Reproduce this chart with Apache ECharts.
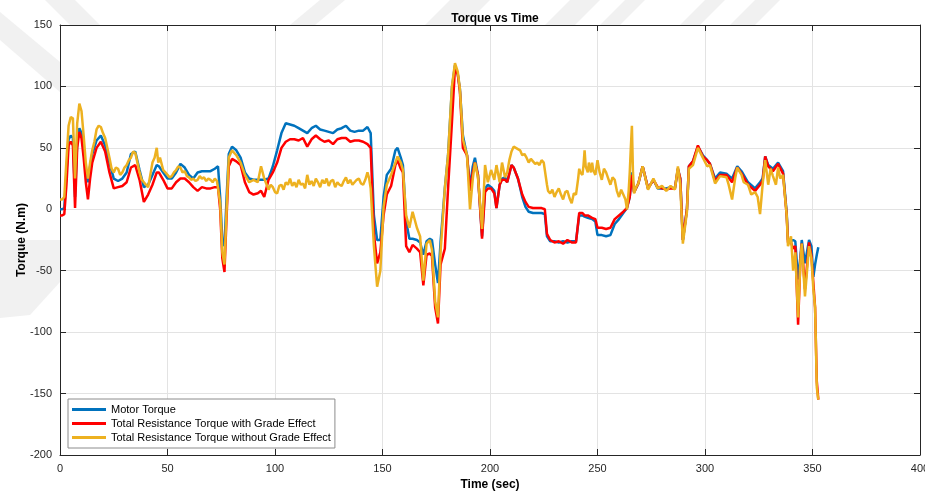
<!DOCTYPE html>
<html>
<head>
<meta charset="utf-8">
<script src="https://cdn.jsdelivr.net/npm/echarts@6/dist/echarts.min.js"></script>
<style>
  html, body { margin: 0; padding: 0; background: #fff; }
  #chart { width: 925px; height: 493px; }
</style>
</head>
<body>
<div id="chart"></div>
<script>
// time samples (sec) for motor torque and "with grade" curve
var time = [
  0, 1, 2, 3, 4, 5, 6, 7, 8, 9, 10, 11, 12, 13, 14, 15, 17, 19, 21, 23, 25, 27, 29, 31, 33, 35, 37, 39, 41, 43, 45, 46, 48, 50,
  52, 54, 56, 58, 60, 62, 64, 66, 68, 70, 72, 73.5, 74.5, 75.5, 76.5, 77.5, 78.5, 80, 82, 84, 86, 88, 90, 92, 93.5, 95, 97, 99,
  101, 103, 105, 107, 109, 111, 113, 115, 117, 119, 121, 123, 125, 127, 129, 131, 133, 135, 137, 139, 141, 143, 144.5, 146,
  147.5, 149, 150.5, 152, 154, 156, 157, 158.5, 159.5, 161, 162.5, 164, 166, 167.5, 169, 170.5, 172, 173, 174.5, 175.8, 177,
  179, 180.5, 182.3, 183.7, 185, 186, 187.4, 189.3, 190.7, 192, 193, 194.4, 196.3, 197.7, 199, 200.5, 202, 203, 204.5, 205.6,
  207, 208, 210, 211, 213, 215, 216.5, 218, 220, 222, 224, 225.5, 226.5, 228, 230, 232, 234, 236, 238, 240, 241.5, 243, 244,
  245.5, 247.5, 249, 250, 252, 254, 256, 258, 260, 262, 263.7, 265, 266, 267, 269, 271, 273.5, 276, 278, 280, 282, 284, 286,
  287.4, 288.5, 289.7, 291.6, 292.5, 294.4, 296.7, 299, 301, 302.3, 304.7, 307, 310, 312.6, 315, 317, 320, 323.3, 325.6, 326.8,
  328, 329.4, 331.6, 334, 336.3, 338, 338.6, 340, 341, 342, 343.3, 344.3, 345, 346.5, 348.4, 349.5, 350.4, 351.2, 352, 352.7
];

var motorTorque = [
  0, 0, 1, 30, 57, 60, 58, 10, 55, 66, 62, 48, 30, 22, 35, 45, 56, 60, 52, 38, 25, 23, 25, 30, 45, 47, 32, 18, 20, 28, 36, 35, 30, 25,
  25, 30, 37, 34, 28, 25, 30, 31, 31, 31, 33, 35, 10, -25, -30, 10, 45, 51, 48, 42, 30, 25, 24, 24, 24, 24, 25, 35,
  48, 62, 70, 69, 68, 66, 64, 62, 66, 68, 65, 64, 63, 62, 65, 66, 68, 64, 63, 64, 64, 67, 62, -5,
  -25, -25, 10, 28, 33, 48, 50, 42, 36, -10, -24, -24, -25, -27, -37, -26, -24, -25, -45, -60, -27,
  17, 44, 99, 117, 110, 98, 60, 44, 18, 35, 42, 28, -22, 17, 20, 18, 15, 1, 20, 25,
  26, 22, 36, 34, 25, 10, 2, -2, -3, -3, -3, -4, -22, -26, -26, -27, -26, -27, -26, -26, -5, -5, -6,
  -7, -8, -10, -21, -21, -22, -21, -12, -8, -3, 1, 10, 30, 14, 21, 35, 17, 24, 17, 17, 17, 18, 17,
  33, 25, -25, 0, 35, 39, 51, 44, 40, 37, 25, 30, 29, 25, 35, 31, 22, 17, 22, 25,
  43, 36, 33, 38, 31, -3, -25, -26, -25, -26, -57, -40, -25, -44, -25, -30, -55, -45, -37, -31
];

var withGrade = [
  -5, -5, -4, 20, 52, 55, 52, 1, 50, 63, 58, 42, 22, 8, 25, 38, 50, 55, 47, 30, 17, 18, 19, 22, 34, 36, 24, 6, 12, 20, 30, 30, 24, 17,
  17, 22, 25, 25, 22, 18, 15, 18, 17, 17, 18, 18, 0, -40, -51, -5, 35, 41, 39, 36, 22, 14, 12, 13, 15, 10, 24, 30,
  38, 50, 55, 57, 57, 56, 58, 51, 57, 60, 57, 55, 56, 53, 57, 58, 58, 55, 56, 56, 55, 53, 50, -20,
  -44, -35, -5, 12, 19, 36, 40, 33, 30, -30, -35, -29, -32, -35, -62, -37, -36, -38, -80, -93, -45,
  -32, 17, 71, 115, 110, 96, 50, 44, 15, 30, 38, 28, -24, 14, 17, 17, 13, 1, 20, 24,
  24, 22, 36, 34, 25, 12, 6, 2, 1, 1, 1, 0, -20, -25, -27, -26, -28, -25, -27, -27, -3, -3, -5,
  -5, -7, -8, -15, -15, -16, -15, -8, -5, -2, 1, 10, 28, 14, 21, 35, 17, 24, 18, 17, 16, 17, 17,
  33, 25, -25, 0, 35, 39, 52, 43, 40, 37, 23, 28, 28, 22, 34, 29, 20, 15, 20, 23,
  43, 35, 31, 37, 29, -5, -27, -27, -32, -30, -94, -45, -28, -65, -27, -38, -60, -80, -140, -155
];

// the "without grade" curve is noisier, so it has its own, denser time samples
var timeNoGrade = [
  0, 1, 2, 3, 4, 5, 6, 7, 8, 9, 10, 11, 12, 13, 14, 15, 16, 17, 18, 19, 20, 21, 22, 23, 24, 25, 26, 27, 28, 29, 30, 31, 32, 33, 34, 35,
  36, 37, 38, 39, 40, 41, 42, 43, 44, 45, 45.7, 46.5, 48, 49, 50, 51, 52, 53, 54, 55, 56, 57, 58, 59, 60, 61, 62, 63, 64, 65, 66,
  67, 68, 69, 70, 71, 72, 73, 73.5, 74.5, 75.5, 76.5, 77.5, 78.5, 80, 82, 84, 86, 88, 90, 92, 93.5, 95, 97, 98, 99, 100, 101,
  102, 103, 104, 105, 106, 107, 108, 109, 110, 111, 112, 113, 114, 115, 116, 117, 118, 119, 120, 121, 122, 123, 124, 125, 126,
  127, 128, 129, 130, 131, 132, 133, 134, 135, 136, 137, 138, 139, 140, 141, 142, 143, 143.8, 144.5, 146, 147.5, 149, 150.5,
  152, 154, 156, 157, 158.5, 159.5, 161, 162.5, 164, 166, 167.5, 169, 170.5, 172, 173, 174.5, 175.8, 177, 179, 180.5, 182.3,
  183.7, 185, 186, 187.4, 189.3, 190.7, 192, 193, 194.4, 196.3, 197.7, 199, 200.5, 202, 203, 204.5, 205.6, 207, 208, 209, 210,
  211, 212, 213, 214, 215, 216, 217, 218, 219, 220, 221, 222, 223, 224, 225, 225.5, 226.5, 227, 228, 229, 230, 231, 232, 233,
  234, 235, 236, 237, 238, 239, 240, 241, 241.5, 242, 243, 243.5, 244, 244.5, 245.5, 246, 247, 247.5, 248, 249, 250, 251, 252,
  253, 254, 255, 256, 257, 258, 259, 260, 261, 262, 263, 263.7, 264.5, 265, 265.5, 266, 266.5, 267, 268, 269, 271, 273.5, 276,
  278, 280, 282, 284, 286, 287.4, 288.5, 289.7, 291.6, 292.5, 294.4, 296.7, 299, 301, 302.3, 304.7, 307, 310, 311, 312.6, 314,
  315, 317, 318, 320, 321.5, 323.3, 324.5, 325.6, 326.8, 328, 329.4, 330.5, 331.6, 333, 334, 335, 336.3, 338, 338.6, 340, 341,
  342, 343.3, 344.3, 345, 346.5, 348.4, 349.5, 350.4, 351.2, 352, 352.7
];

var withoutGrade = [
  8, 8, 10, 40, 68, 75, 74, 25, 70, 86, 80, 60, 38, 25, 38, 48, 55, 65, 68, 67, 62, 58, 50, 42, 33, 30, 34, 33, 28, 30, 34, 36, 40, 42, 47, 46,
  38, 30, 24, 22, 20, 18, 28, 38, 42, 50, 38, 42, 32, 30, 28, 26, 27, 30, 32, 35, 34, 30, 31, 27, 26, 24, 25, 23, 24, 27, 25,
  26, 23, 25, 24, 22, 25, 23, 22, 5, -35, -45, 0, 42, 48, 44, 38, 28, 22, 24, 22, 35, 25, 16, 20, 18, 14, 13,
  19, 20, 16, 22, 20, 25, 19, 22, 18, 24, 20, 21, 17, 28, 20, 23, 19, 25, 22, 18, 24, 21, 25, 19, 23,
  24, 18, 22, 20, 19, 23, 26, 21, 24, 20, 22, 24, 25, 21, 20, 24, 30, 25, 17, -30, -63, -50, 2,
  20, 28, 38, 43, 38, 32, -5, -15, -2, -15, -22, -58, -28, -25, -33, -75, -88, -35, 17, 44, 100,
  119, 112, 98, 57, 44, 0, 25, 38, 26, -16, 36, 22, 32, 24, 36, 22, 38, 26, 30, 40, 47,
  51, 50, 49, 48, 44, 45, 42, 38, 41, 39, 37, 38, 36, 40, 38, 38, 20, 15, 13, 16, 10, 14, 17, 12,
  8, 14, 15, 9, 5, 13, 12, 25, 33, 30, 28, 36, 48, 35, 30, 38, 30, 38, 32, 28, 40, 30, 24,
  33, 30, 25, 20, 26, 24, 15, 10, 16, 12, 8, 0, 15, 30, 50, 68, 30, 13, 18, 21, 35, 16, 25,
  17, 19, 15, 19, 16, 35, 20, -28, -2, 33, 36, 50, 42, 35, 36, 21, 27, 26, 20, 8, 25,
  34, 28, 22, 20, 12, 14, 10, -4, 20, 40, 20, 33, 27, 20, 34, 25, 28, -5, -30, -22, -50,
  -35, -88, -45, -28, -71, -30, -40, -65, -80, -145, -155
];

var seriesNames = ['Motor Torque', 'Total Resistance Torque with Grade Effect', 'Total Resistance Torque without Grade Effect'];
var seriesColors = ['#0072BD', '#FF0000', '#EDB120'];

function pairs(ts, vals) {
  var out = [];
  for (var i = 0; i < ts.length; i++) out.push([ts[i], vals[i]]);
  return out;
}

var seriesData = [pairs(time, motorTorque), pairs(time, withGrade), pairs(timeNoGrade, withoutGrade)];
var series = [];
for (var k = 0; k < 3; k++) {
  series.push({
    name: seriesNames[k],
    type: 'line',
    data: seriesData[k],
    showSymbol: false,
    lineStyle: { color: seriesColors[k], width: 2.5 },
    itemStyle: { color: seriesColors[k] },
    z: 2 + k
  });
}

var font = 'Liberation Sans, Arial, sans-serif';
var axisText = { color: '#262626', fontSize: 11, fontFamily: font };
var lineCol = '#262626';

// faint watermark stripes in the margins (plot area is painted white over them)
var wmStyle = { fill: '#f1f1f1' };
var watermark = [
  [[0, 12], [0, 40], [60, 92], [60, 62]],
  [[45, 0], [75, 0], [100, 25], [70, 25]],
  [[0, 240], [60, 240], [60, 282], [30, 315], [0, 318]],
  [[290, 25], [320, 0], [345, 0], [315, 25]],
  [[425, 25], [450, 0], [490, 0], [465, 25]],
  [[545, 25], [570, 0], [600, 0], [575, 25]],
  [[600, 25], [625, 0], [645, 0], [620, 25]],
  [[680, 25], [705, 0], [725, 0], [700, 25]],
  [[730, 25], [755, 0], [780, 0], [755, 25]]
];
var graphics = watermark.map(function (pts) {
  return { type: 'polygon', shape: { points: pts }, style: wmStyle, silent: true, z: -10 };
});

var chart = echarts.init(document.getElementById('chart'));
chart.setOption({
  animation: false,
  backgroundColor: '#fff',
  graphic: graphics,
  title: {
    text: 'Torque vs Time',
    left: 490, textAlign: 'center', top: 8,
    textStyle: { fontSize: 12, fontWeight: 'bold', color: '#000', fontFamily: font }
  },
  grid: {
    left: 60, right: 5, top: 25, bottom: 38,
    outerBoundsMode: 'none', containLabel: false,
    show: true, backgroundColor: '#fff', borderWidth: 0
  },
  legend: {
    orient: 'vertical',
    left: 68, top: 399,
    data: seriesNames,
    icon: 'rect',
    itemWidth: 34, itemHeight: 3, itemGap: 1,
    padding: [4, 4, 4, 4],
    borderColor: '#8c8c8c', borderWidth: 1, backgroundColor: '#fff',
    textStyle: { fontSize: 11, color: '#000', lineHeight: 13, fontFamily: font }
  },
  xAxis: [{
    type: 'value', min: 0, max: 400, interval: 50,
    name: 'Time (sec)', nameLocation: 'middle', nameGap: 23,
    nameTextStyle: { fontSize: 12, fontWeight: 'bold', color: '#000', fontFamily: font },
    axisLine: { onZero: false, lineStyle: { color: lineCol } },
    axisTick: { inside: true, length: 6, lineStyle: { color: lineCol } },
    axisLabel: axisText,
    splitLine: { show: true, lineStyle: { color: '#e3e3e3' } }
  }, {
    type: 'value', min: 0, max: 400, interval: 50, position: 'top',
    axisLine: { onZero: false, lineStyle: { color: lineCol } },
    axisTick: { inside: true, length: 6, lineStyle: { color: lineCol } },
    axisLabel: { show: false }, splitLine: { show: false }
  }],
  yAxis: [{
    type: 'value', min: -200, max: 150, interval: 50,
    name: 'Torque (N.m)', nameLocation: 'middle', nameGap: 32, nameRotate: 90,
    nameMoveOverlap: false,
    nameTextStyle: { fontSize: 12, fontWeight: 'bold', color: '#000', fontFamily: font },
    axisLine: { show: true, onZero: false, lineStyle: { color: lineCol } },
    axisTick: { show: true, inside: true, length: 6, lineStyle: { color: lineCol } },
    axisLabel: axisText,
    splitLine: { show: true, lineStyle: { color: '#e3e3e3' } }
  }, {
    type: 'value', min: -200, max: 150, interval: 50, position: 'right',
    axisLine: { show: true, onZero: false, lineStyle: { color: lineCol } },
    axisTick: { show: true, inside: true, length: 6, lineStyle: { color: lineCol } },
    axisLabel: { show: false }, splitLine: { show: false }
  }],
  series: series
});
</script>
</body>
</html>
